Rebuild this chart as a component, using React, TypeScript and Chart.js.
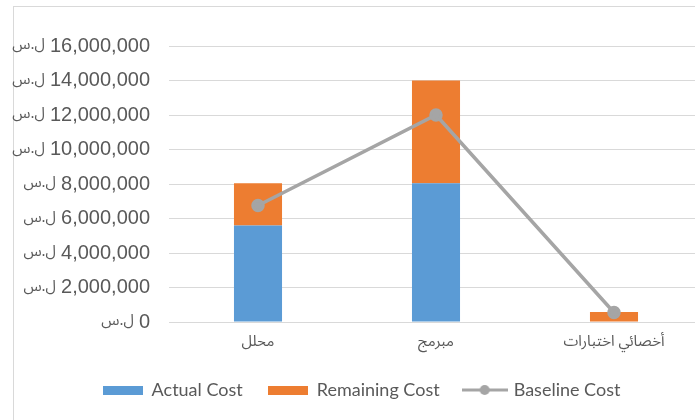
import React, { useEffect, useRef } from "react";
import { Chart, registerables } from "chart.js";

Chart.register(...registerables);

const categories = ["محلل", "مبرمج", "أخصائي اختبارات"];
const actualCost = [5600000, 8050000, 0];
const remainingCost = [2450000, 5950000, 580000];
const baselineCost = [6750000, 12000000, 550000];
const yTicks = [0, 2000000, 4000000, 6000000, 8000000, 10000000, 12000000, 14000000, 16000000];
const currencySymbol = "ل.س";

const seriesNames = ["Actual Cost", "Remaining Cost", "Baseline Cost"];
const colors = ["#5B9BD5", "#ED7D31", "#A5A5A5"];

const TICK_FONT_FAMILY = "'Liberation Sans', Arial, sans-serif";
const TICK_FONT_SIZE = 20;
const SYMBOL_FONT = "15px 'Noto Sans Arabic', 'DejaVu Sans', sans-serif";
const TICK_PADDING = 19;

const formatNumber = (v: number) => Number(v).toLocaleString("en-US");

function makeRectIcon(color: string): HTMLCanvasElement {
  const c = document.createElement("canvas");
  c.width = 40;
  c.height = 9;
  const ctx = c.getContext("2d")!;
  ctx.fillStyle = color;
  ctx.fillRect(0, 0, 40, 9);
  return c;
}

function makeLineIcon(color: string): HTMLCanvasElement {
  const c = document.createElement("canvas");
  c.width = 46;
  c.height = 12;
  const ctx = c.getContext("2d")!;
  ctx.strokeStyle = color;
  ctx.lineWidth = 3;
  ctx.beginPath();
  ctx.moveTo(0, 6);
  ctx.lineTo(46, 6);
  ctx.stroke();
  ctx.fillStyle = color;
  ctx.beginPath();
  ctx.arc(23, 6, 5, 0, Math.PI * 2);
  ctx.fill();
  return c;
}

const LEGEND_SHIFT = 7;

const legendShiftPlugin = {
  id: "legendShift",
  afterLayout(chart: any) {
    if (chart.legend) {
      chart.legend.left += LEGEND_SHIFT;
      chart.legend.right += LEGEND_SHIFT;
    }
  },
};

// Draws the currency symbol to the left of each y tick label
const currencySymbolPlugin = {
  id: "currencySymbol",
  afterDraw(chart: any) {
    const s = chart.scales.y;
    const ctx = chart.ctx;
    ctx.save();
    ctx.fillStyle = "#595959";
    ctx.textAlign = "right";
    ctx.textBaseline = "middle";
    s.ticks.forEach((t: any) => {
      ctx.font = `${TICK_FONT_SIZE}px ${TICK_FONT_FAMILY}`;
      const w = ctx.measureText(formatNumber(t.value)).width;
      ctx.font = SYMBOL_FONT;
      const x = s.right - TICK_PADDING - w - 5;
      ctx.fillText(currencySymbol, x, s.getPixelForValue(t.value) + 1);
    });
    ctx.restore();
  },
};

export default function App() {
  const ref = useRef<HTMLCanvasElement>(null);

  useEffect(() => {
    if (!ref.current) return;
    const icons = [makeRectIcon(colors[0]), makeRectIcon(colors[1]), makeLineIcon(colors[2])];
    const chart = new Chart(ref.current, {
      type: "bar",
      data: {
        labels: categories,
        datasets: [
          {
            type: "bar",
            label: seriesNames[0],
            data: actualCost,
            backgroundColor: colors[0],
            stack: "bars",
            barPercentage: 0.27,
            categoryPercentage: 1,
            order: 2,
          },
          {
            type: "bar",
            label: seriesNames[1],
            data: remainingCost,
            backgroundColor: colors[1],
            stack: "bars",
            barPercentage: 0.27,
            categoryPercentage: 1,
            order: 2,
          },
          {
            type: "line",
            label: seriesNames[2],
            data: baselineCost,
            borderColor: colors[2],
            backgroundColor: colors[2],
            borderWidth: 3.5,
            pointRadius: 5,
            pointBackgroundColor: colors[2],
            pointBorderColor: colors[2],
            stack: "line",
            tension: 0,
            order: 1,
          } as any,
        ],
      },
      plugins: [legendShiftPlugin, currencySymbolPlugin],
      options: {
        responsive: false,
        animation: false,
        layout: { padding: { left: 6, right: 17, top: 46, bottom: 11 } },
        plugins: {
          tooltip: { enabled: false },
          legend: {
            position: "bottom",
            labels: {
              usePointStyle: true,
              pointStyleWidth: 40,
              boxWidth: 40,
              boxHeight: 9,
              padding: 25,
              color: "#595959",
              font: { family: "Lato, 'Liberation Sans', sans-serif", size: 18 },
              generateLabels: (ch: any) => {
                const items = Chart.defaults.plugins.legend.labels.generateLabels(ch);
                items.sort((a: any, b: any) => a.datasetIndex - b.datasetIndex);
                items.forEach((it: any) => {
                  it.pointStyle = icons[it.datasetIndex];
                });
                return items;
              },
            },
          },
        },
        scales: {
          x: {
            stacked: true,
            grid: { display: false },
            border: { display: false },
            ticks: {
              color: "#595959",
              padding: 5,
              font: { family: "'Noto Sans Arabic', 'DejaVu Sans', sans-serif", size: 15 },
            },
            afterFit: (s: any) => {
              s.height = 34;
            },
          },
          y: {
            stacked: true,
            min: 0,
            max: 16000000,
            grid: { color: "#D9D9D9", lineWidth: 1, drawTicks: false },
            border: { display: false },
            ticks: {
              color: "#595959",
              padding: TICK_PADDING,
              font: { family: TICK_FONT_FAMILY, size: TICK_FONT_SIZE },
              callback: (v: any) => formatNumber(v),
            },
            afterBuildTicks: (s: any) => {
              s.ticks = yTicks.map((value) => ({ value }));
            },
            afterFit: (s: any) => {
              s.width = 163;
            },
          },
        },
      } as any,
    });
    return () => chart.destroy();
  }, []);

  return (
    <div
      style={{
        position: "fixed",
        left: 0,
        top: 0,
        width: 695,
        height: 420,
        overflow: "hidden",
        background: "#ffffff",
      }}
    >
      <div
        style={{
          position: "absolute",
          left: 13,
          top: 6,
          width: 800,
          height: 500,
          border: "1px solid #D9D9D9",
        }}
      />
      <canvas
        ref={ref}
        width={720}
        height={420}
        style={{ position: "absolute", left: 0, top: 0, width: 720, height: 420 }}
      />
    </div>
  );
}
